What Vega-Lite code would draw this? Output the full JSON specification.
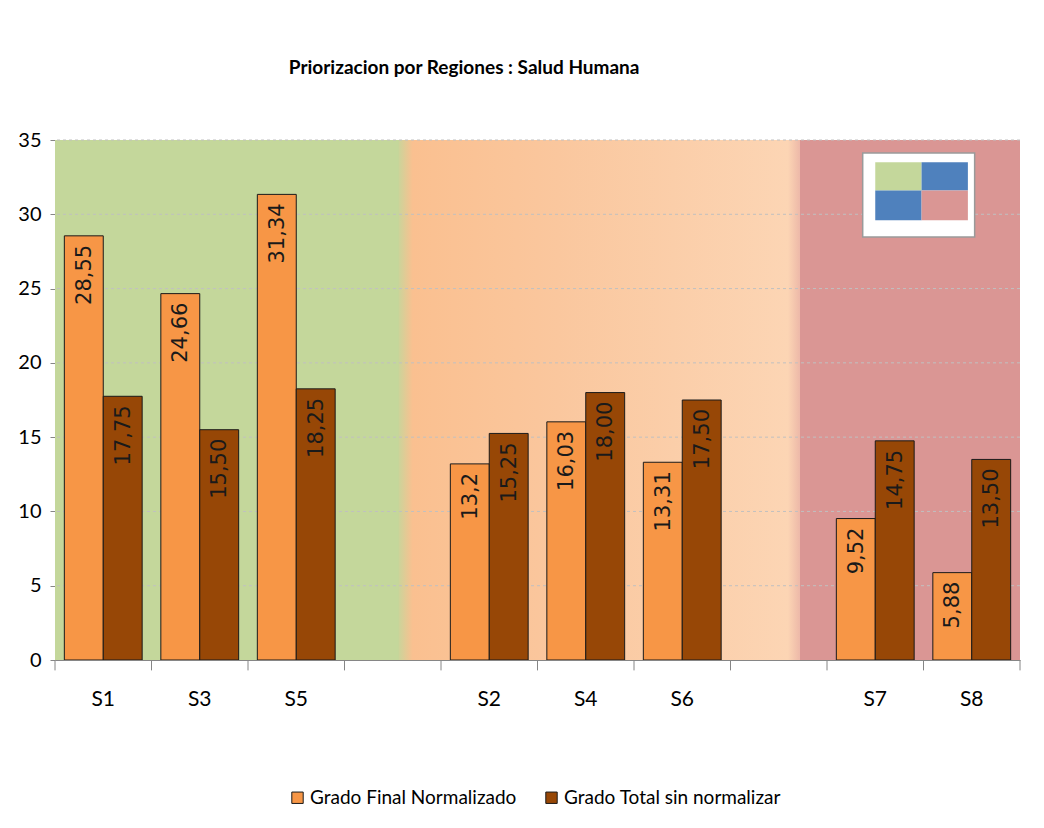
{
  "$schema": "https://vega.github.io/schema/vega-lite/v6.json",
  "autosize": "none",
  "width": 965,
  "height": 520,
  "padding": {"left": 55, "top": 140, "right": 24, "bottom": 168},
  "background": "white",
  "config": {
    "view": {"stroke": null},
    "font": "Lato"
  },
  "title": {
    "text": "Priorizacion por Regiones : Salud Humana",
    "anchor": "start",
    "dx": 271,
    "offset": 52,
    "fontSize": 19,
    "fontWeight": "bold",
    "font": "Lato",
    "color": "#000000"
  },
  "datasets": {
    "regiones": [
      {"region": "verde", "c0": "S1", "c1": "g1", "y0": 0, "y1": 35},
      {"region": "naranja", "c0": "g1", "c1": "g2", "y0": 0, "y1": 35},
      {"region": "rojo", "c0": "g2", "c1": "S8", "y0": 0, "y1": 35}
    ],
    "grid": [
      {"v": 5}, {"v": 10}, {"v": 15}, {"v": 20}, {"v": 25}, {"v": 30}, {"v": 35}
    ],
    "marcas": [
      {"c": "S1"}, {"c": "S3"}, {"c": "S5"}, {"c": "g1"}, {"c": "S2"},
      {"c": "S4"}, {"c": "S6"}, {"c": "g2"}, {"c": "S7"}, {"c": "S8"}
    ],
    "miniatura": [
      {"parte": "marco", "c0": "S7", "c1": "S8", "y0": 28.47, "y1": 34.13},
      {"parte": "q1", "c0": "S7", "c1": "S7", "y0": 31.6, "y1": 33.5},
      {"parte": "q2", "c0": "S7", "c1": "S8", "y0": 31.6, "y1": 33.5},
      {"parte": "q3", "c0": "S7", "c1": "S7", "y0": 29.6, "y1": 31.6},
      {"parte": "q4", "c0": "S7", "c1": "S8", "y0": 29.6, "y1": 31.6}
    ],
    "barras": [
      {"sitio": "S1", "serie": "Grado Final Normalizado", "valor": 28.55, "etiqueta": "28,55"},
      {"sitio": "S1", "serie": "Grado Total sin normalizar", "valor": 17.75, "etiqueta": "17,75"},
      {"sitio": "S3", "serie": "Grado Final Normalizado", "valor": 24.66, "etiqueta": "24,66"},
      {"sitio": "S3", "serie": "Grado Total sin normalizar", "valor": 15.5, "etiqueta": "15,50"},
      {"sitio": "S5", "serie": "Grado Final Normalizado", "valor": 31.34, "etiqueta": "31,34"},
      {"sitio": "S5", "serie": "Grado Total sin normalizar", "valor": 18.25, "etiqueta": "18,25"},
      {"sitio": "S2", "serie": "Grado Final Normalizado", "valor": 13.2, "etiqueta": "13,2"},
      {"sitio": "S2", "serie": "Grado Total sin normalizar", "valor": 15.25, "etiqueta": "15,25"},
      {"sitio": "S4", "serie": "Grado Final Normalizado", "valor": 16.03, "etiqueta": "16,03"},
      {"sitio": "S4", "serie": "Grado Total sin normalizar", "valor": 18.0, "etiqueta": "18,00"},
      {"sitio": "S6", "serie": "Grado Final Normalizado", "valor": 13.31, "etiqueta": "13,31"},
      {"sitio": "S6", "serie": "Grado Total sin normalizar", "valor": 17.5, "etiqueta": "17,50"},
      {"sitio": "S7", "serie": "Grado Final Normalizado", "valor": 9.52, "etiqueta": "9,52"},
      {"sitio": "S7", "serie": "Grado Total sin normalizar", "valor": 14.75, "etiqueta": "14,75"},
      {"sitio": "S8", "serie": "Grado Final Normalizado", "valor": 5.88, "etiqueta": "5,88"},
      {"sitio": "S8", "serie": "Grado Total sin normalizar", "valor": 13.5, "etiqueta": "13,50"}
    ]
  },
  "layer": [
    {
      "data": {"name": "regiones"},
      "transform": [{"filter": "datum.region == 'naranja'"}],
      "mark": {
        "type": "rect",
        "color": {
          "gradient": "linear",
          "x1": 0, "y1": 0, "x2": 1, "y2": 0,
          "stops": [
            {"offset": 0, "color": "#C4D79B"},
            {"offset": 0.04, "color": "#FAC090"},
            {"offset": 0.4, "color": "#FAC79E"},
            {"offset": 0.97, "color": "#FCD5B4"},
            {"offset": 1, "color": "#EDB8A8"}
          ]
        }
      },
      "encoding": {
        "x": {"field": "c0", "type": "nominal", "bandPosition": 0.54, "scale": {"domain": ["S1", "S3", "S5", "g1", "S2", "S4", "S6", "g2", "S7", "S8"], "paddingInner": 0, "paddingOuter": 0}},
        "x2": {"field": "c1", "bandPosition": 0.72},
        "y": {"field": "y0", "type": "quantitative", "scale": {"domain": [0, 35], "nice": false}},
        "y2": {"field": "y1"}
      }
    },
    {
      "data": {"name": "regiones"},
      "transform": [{"filter": "datum.region == 'verde'"}],
      "mark": {"type": "rect", "color": "#C4D79B"},
      "encoding": {
        "x": {"field": "c0", "type": "nominal", "bandPosition": 0},
        "x2": {"field": "c1", "bandPosition": 0.56},
        "y": {"field": "y0", "type": "quantitative"},
        "y2": {"field": "y1"}
      }
    },
    {
      "data": {"name": "regiones"},
      "transform": [{"filter": "datum.region == 'rojo'"}],
      "mark": {"type": "rect", "color": "#DA9694"},
      "encoding": {
        "x": {"field": "c0", "type": "nominal", "bandPosition": 0.72},
        "x2": {"field": "c1", "bandPosition": 1},
        "y": {"field": "y0", "type": "quantitative"},
        "y2": {"field": "y1"}
      }
    },
    {
      "data": {"name": "grid"},
      "mark": {"type": "rule", "color": "#C0C0C0", "strokeDash": [3, 3], "strokeWidth": 1},
      "encoding": {
        "y": {"field": "v", "type": "quantitative"}
      }
    },
    {
      "data": {"name": "miniatura"},
      "transform": [{"filter": "datum.parte == 'marco'"}],
      "mark": {"type": "rect", "color": "#FFFFFF", "stroke": "#9A9A9A", "strokeWidth": 1.5},
      "encoding": {
        "x": {"field": "c0", "type": "nominal", "bandPosition": 0.37},
        "x2": {"field": "c1", "bandPosition": 0.53},
        "y": {"field": "y0", "type": "quantitative"},
        "y2": {"field": "y1"}
      }
    },
    {
      "data": {"name": "miniatura"},
      "transform": [{"filter": "datum.parte == 'q1'"}],
      "mark": {"type": "rect", "color": "#C4D79B"},
      "encoding": {
        "x": {"field": "c0", "type": "nominal", "bandPosition": 0.5},
        "x2": {"field": "c1", "bandPosition": 0.98},
        "y": {"field": "y0", "type": "quantitative"},
        "y2": {"field": "y1"}
      }
    },
    {
      "data": {"name": "miniatura"},
      "transform": [{"filter": "datum.parte == 'q2'"}],
      "mark": {"type": "rect", "color": "#4F81BD"},
      "encoding": {
        "x": {"field": "c0", "type": "nominal", "bandPosition": 0.98},
        "x2": {"field": "c1", "bandPosition": 0.46},
        "y": {"field": "y0", "type": "quantitative"},
        "y2": {"field": "y1"}
      }
    },
    {
      "data": {"name": "miniatura"},
      "transform": [{"filter": "datum.parte == 'q3'"}],
      "mark": {"type": "rect", "color": "#4F81BD"},
      "encoding": {
        "x": {"field": "c0", "type": "nominal", "bandPosition": 0.5},
        "x2": {"field": "c1", "bandPosition": 0.98},
        "y": {"field": "y0", "type": "quantitative"},
        "y2": {"field": "y1"}
      }
    },
    {
      "data": {"name": "miniatura"},
      "transform": [{"filter": "datum.parte == 'q4'"}],
      "mark": {"type": "rect", "color": "#DA9694"},
      "encoding": {
        "x": {"field": "c0", "type": "nominal", "bandPosition": 0.98},
        "x2": {"field": "c1", "bandPosition": 0.46},
        "y": {"field": "y0", "type": "quantitative"},
        "y2": {"field": "y1"}
      }
    },
    {
      "data": {"name": "barras"},
      "mark": {"type": "bar", "stroke": "#1a1a1a", "strokeWidth": 1},
      "encoding": {
        "x": {
          "field": "sitio", "type": "nominal",
          "scale": {"domain": ["S1", "S3", "S5", "g1", "S2", "S4", "S6", "g2", "S7", "S8"], "paddingInner": 0, "paddingOuter": 0},
          "axis": {
            "title": null,
            "labelAngle": 0,
            "labelAlign": "center",
            "labelExpr": "indexof(datum.value, 'g') == 0 ? '' : datum.value",
            "ticks": false,
            "domainColor": "#868686",
            "labelFontSize": 21,
            "labelFont": "Lato",
            "labelColor": "#000000",
            "labelPadding": 39
          }
        },
        "xOffset": {
          "field": "serie", "type": "nominal",
          "scale": {"domain": ["Grado Final Normalizado", "Grado Total sin normalizar"], "paddingInner": 0, "paddingOuter": 0.24}
        },
        "y": {
          "field": "valor", "type": "quantitative",
          "axis": {
            "title": null,
            "values": [0, 5, 10, 15, 20, 25, 30, 35],
            "grid": false,
            "domainColor": "#868686",
            "tickColor": "#868686",
            "tickSize": 5,
            "labelFontSize": 20,
            "labelFont": "Lato",
            "labelColor": "#000000",
            "labelPadding": 9
          }
        },
        "color": {
          "field": "serie", "type": "nominal",
          "scale": {"domain": ["Grado Final Normalizado", "Grado Total sin normalizar"], "range": ["#F79646", "#974706"]},
          "legend": {
            "orient": "none",
            "legendX": 233,
            "legendY": 648,
            "direction": "horizontal",
            "title": null,
            "symbolType": "square",
            "symbolSize": 130,
            "symbolStrokeColor": "#1a1a1a",
            "symbolStrokeWidth": 1,
            "symbolOpacity": 1,
            "labelFontSize": 19,
            "labelFont": "Lato",
            "labelColor": "#000000",
            "labelOffset": 3,
            "columnPadding": 25,
            "labelLimit": 300
          }
        }
      }
    },
    {
      "data": {"name": "marcas"},
      "mark": {"type": "rule", "color": "#868686", "strokeWidth": 1},
      "encoding": {
        "x": {"field": "c", "type": "nominal", "bandPosition": 0},
        "y": {"datum": 0, "type": "quantitative"},
        "y2": {"datum": -0.7}
      }
    },
    {
      "data": {"name": "marcas"},
      "transform": [{"filter": "datum.c == 'S8'"}],
      "mark": {"type": "rule", "color": "#868686", "strokeWidth": 1},
      "encoding": {
        "x": {"field": "c", "type": "nominal", "bandPosition": 1},
        "y": {"datum": 0, "type": "quantitative"},
        "y2": {"datum": -0.7}
      }
    },
    {
      "data": {"name": "barras"},
      "mark": {"type": "text", "angle": 270, "align": "right", "baseline": "middle", "dx": -9, "dy": 1, "fontSize": 21, "font": "DejaVu Sans", "color": "#1a1a1a"},
      "encoding": {
        "x": {"field": "sitio", "type": "nominal"},
        "xOffset": {"field": "serie", "type": "nominal"},
        "y": {"field": "valor", "type": "quantitative"},
        "text": {"field": "etiqueta"}
      }
    }
  ]
}
